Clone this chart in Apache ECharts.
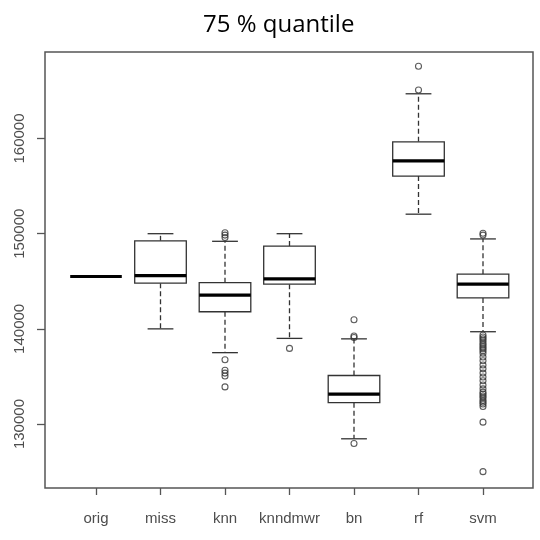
<!DOCTYPE html>
<html>
<head>
<meta charset="utf-8">
<title>75 % quantile</title>
<script src="https://cdn.jsdelivr.net/npm/echarts@6/dist/echarts.min.js"></script>
<style>
  html, body { margin: 0; padding: 0; background: #ffffff; }
  #chart { width: 540px; height: 540px; }
</style>
</head>
<body>
<div id="chart"></div>
<script>
// Imputation methods along the x axis
const categories = ['orig', 'miss', 'knn', 'knndmwr', 'bn', 'rf', 'svm'];

// Five-number summaries per method (whisker ends, quartiles, median)
const whiskerLow  = [145500, 140000, 137500, 139000, 128450, 152050, 139700];
const q1          = [145500, 144800, 141800, 144700, 132250, 156050, 143250];
const median      = [145500, 145600, 143550, 145250, 133150, 157650, 144700];
const q3          = [145500, 149250, 144850, 148700, 135100, 159650, 145750];
const whiskerHigh = [145500, 150000, 149200, 150000, 138950, 164700, 149450];

// Points beyond the whiskers, per method
const outliersOrig    = [];
const outliersMiss    = [];
const outliersKnn     = [150100, 149850, 149600, 136750, 135650, 135350, 135050, 133900];
const outliersKnndmwr = [137950];
const outliersBn      = [140950, 139250, 139100, 127950];
const outliersRf      = [167600, 165100];
const outliersSvm     = [150050, 149850,
  139350, 139150, 138950, 138750, 138500, 138300, 138100, 137900, 137700, 137450,
  137050, 136650, 136200, 135800, 135350, 134950, 134550, 134100, 133700,
  133350, 133150, 132950, 132750, 132500, 132300, 132100, 131850,
  130200, 125000];
const outlierLists = [outliersOrig, outliersMiss, outliersKnn, outliersKnndmwr,
                      outliersBn, outliersRf, outliersSvm];

// Value axis ticks and range
const yTicks = [130000, 140000, 150000, 160000];
const yMin = 123280;
const yMax = 169090;

const boxData = categories.map((c, i) =>
  [i, whiskerLow[i], q1[i], median[i], q3[i], whiskerHigh[i]]);
const outlierData = [];
outlierLists.forEach((list, i) => list.forEach(v => outlierData.push([i, v])));

const ink = '#333333';
const axisInk = '#555555';
const labelFont = '"Liberation Sans", Arial, sans-serif';

// R-style box: solid box, thick median, dashed whiskers with solid caps
function renderBox(params, api) {
  const i = api.value(0);
  const band = api.size([1, 0])[0];
  const half = band * 0.4;
  const capHalf = half / 2;
  const pLow = api.coord([i, api.value(1)]);
  const pQ1 = api.coord([i, api.value(2)]);
  const pMed = api.coord([i, api.value(3)]);
  const pQ3 = api.coord([i, api.value(4)]);
  const pHigh = api.coord([i, api.value(5)]);
  const x = pMed[0];
  const thin = { stroke: ink, lineWidth: 1.3, fill: null };
  const dashed = { stroke: ink, lineWidth: 1.3, lineDash: [5, 3] };
  const children = [];
  if (pLow[1] !== pQ1[1]) {
    children.push({ type: 'line', shape: { x1: x, y1: pQ1[1], x2: x, y2: pLow[1] }, style: dashed });
    children.push({ type: 'line', shape: { x1: x - capHalf, y1: pLow[1], x2: x + capHalf, y2: pLow[1] }, style: thin });
  }
  if (pHigh[1] !== pQ3[1]) {
    children.push({ type: 'line', shape: { x1: x, y1: pQ3[1], x2: x, y2: pHigh[1] }, style: dashed });
    children.push({ type: 'line', shape: { x1: x - capHalf, y1: pHigh[1], x2: x + capHalf, y2: pHigh[1] }, style: thin });
  }
  if (pQ1[1] !== pQ3[1]) {
    children.push({
      type: 'rect',
      shape: { x: x - half, y: pQ3[1], width: half * 2, height: pQ1[1] - pQ3[1] },
      style: { stroke: ink, lineWidth: 1.3, fill: '#ffffff' }
    });
  }
  children.push({
    type: 'line',
    shape: { x1: x - half, y1: pMed[1], x2: x + half, y2: pMed[1] },
    style: { stroke: '#000000', lineWidth: 3.2 }
  });
  return { type: 'group', children: children };
}

const chart = echarts.init(document.getElementById('chart'), null, { renderer: 'canvas' });
chart.setOption({
  backgroundColor: '#ffffff',
  animation: false,
  title: {
    text: '75 % quantile',
    left: 198,
    top: 8,
    textStyle: { fontFamily: '"Open Sans", sans-serif', fontSize: 24, fontWeight: 'normal', color: '#000000' }
  },
  grid: [
    // plot frame carrying the value axis labels
    { left: 45, top: 52, width: 488, height: 436, show: true, borderColor: axisInk, borderWidth: 1.5, backgroundColor: 'transparent' },
    // data area: category bands spaced as in the frame
    { left: 63.75, top: 52, width: 451.5, height: 436 }
  ],
  xAxis: [
    { gridIndex: 0, type: 'value', show: false, min: 0, max: 1 },
    {
      gridIndex: 1, type: 'category', data: categories,
      axisLine: { show: false },
      axisTick: { show: true, alignWithLabel: true, interval: 0, length: 7, lineStyle: { color: axisInk, width: 1.3 } },
      axisLabel: { interval: 0, color: '#4d4d4d', fontFamily: labelFont, fontSize: 15, margin: 23 },
      splitLine: { show: false }
    }
  ],
  yAxis: [
    {
      gridIndex: 0, type: 'value', min: yMin, max: yMax,
      axisLine: { show: false },
      axisTick: { show: true, length: 8, customValues: yTicks, lineStyle: { color: axisInk, width: 1.3 } },
      axisLabel: {
        customValues: yTicks, rotate: 90, margin: 18,
        formatter: v => String(v),
        color: '#4d4d4d', fontFamily: labelFont, fontSize: 15
      },
      splitLine: { show: false }
    },
    { gridIndex: 1, type: 'value', min: yMin, max: yMax, show: false }
  ],
  series: [
    {
      type: 'custom',
      xAxisIndex: 1, yAxisIndex: 1,
      renderItem: renderBox,
      encode: { x: 0, y: [1, 2, 3, 4, 5] },
      data: boxData,
      z: 2
    },
    {
      type: 'scatter',
      xAxisIndex: 1, yAxisIndex: 1,
      symbol: 'circle',
      symbolSize: 6,
      itemStyle: { color: 'transparent', borderColor: ink, borderWidth: 1.1 },
      data: outlierData,
      z: 3
    }
  ]
});
</script>
</body>
</html>
